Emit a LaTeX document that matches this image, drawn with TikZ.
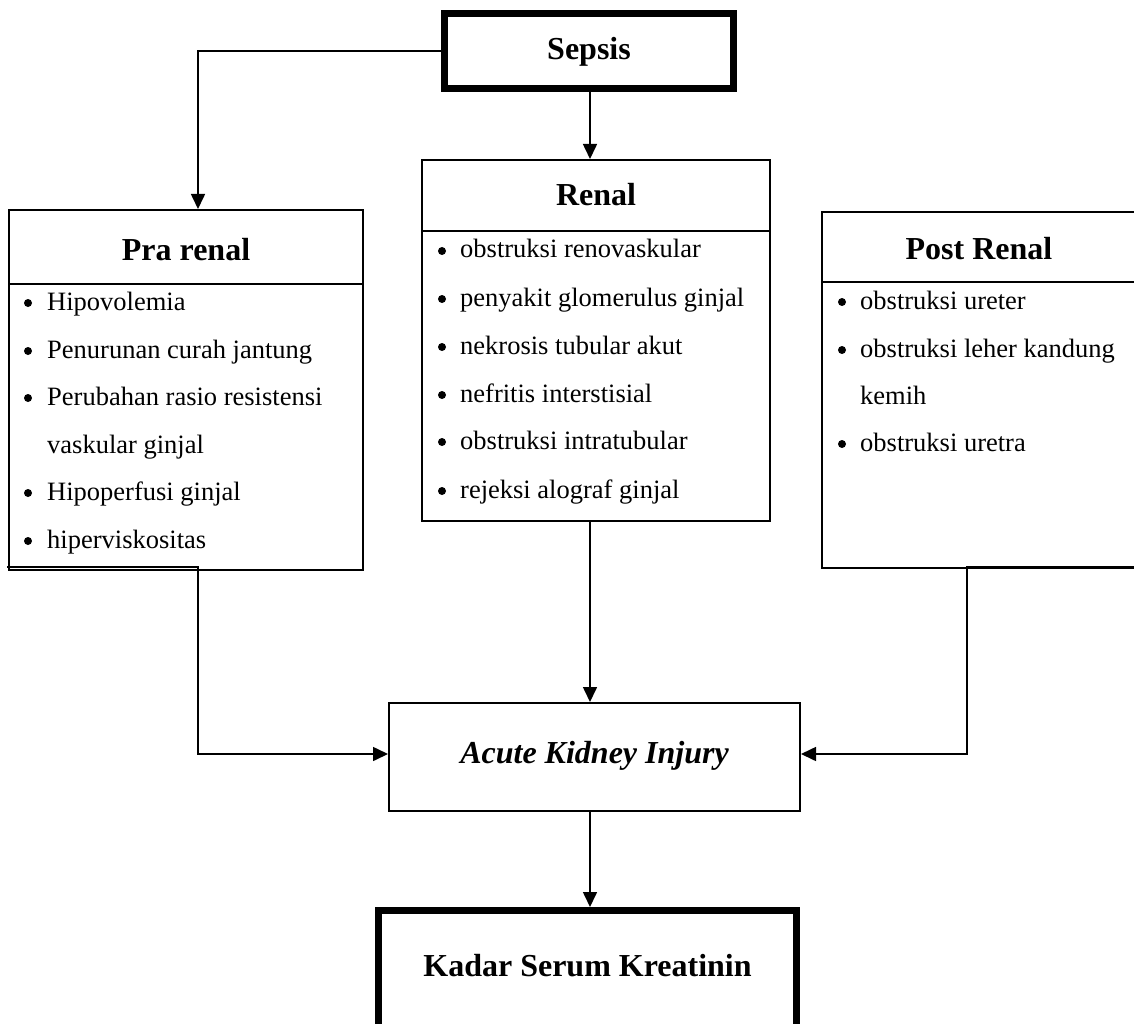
\documentclass[tikz,border=0pt]{standalone}
\usepackage{fontspec}
\setmainfont{Liberation Serif}
\usetikzlibrary{arrows.meta}
\begin{document}
\begin{tikzpicture}[x=1pt,y=-1pt,
  thinbox/.style={draw, line width=2pt, inner sep=0pt},
  thickbox/.style={draw, line width=7pt, inner sep=0pt},
  head/.style={font=\fontsize{32}{36}\selectfont\bfseries, inner sep=0pt, anchor=base},
  itemtext/.style={font=\fontsize{26.5}{30}\selectfont, inner sep=0pt, anchor=base west},
  divider/.style={line width=2pt},
  conn/.style={line width=1.6pt},
  arr/.style={conn, -{Triangle[length=15pt,width=14pt]}},
  dot/.style={fill=black}
]
\useasboundingbox (0,0) rectangle (1134,1024);
\clip (0,0) rectangle (1134,1024);
\fill[white] (0,0) rectangle (1134,1024);

% boxes
\node[thickbox, minimum width=289pt, minimum height=75pt] (sepsis) at (589,51) {};
\node[thinbox, minimum width=354pt, minimum height=360pt] (pra) at (186,390) {};
\node[thinbox, minimum width=348pt, minimum height=361pt] (renal) at (596,340.5) {};
\node[thinbox, minimum width=314pt, minimum height=356pt] (post) at (979,390) {};
\node[thinbox, minimum width=411pt, minimum height=108pt] (aki) at (594.5,757) {};
\node[thickbox, minimum width=418pt, minimum height=130pt] (kadar) at (587.5,975.5) {};

% header dividers
\draw[divider] (pra.west |- 0,284) -- (pra.east |- 0,284);
\draw[divider] (renal.west |- 0,231) -- (renal.east |- 0,231);
\draw[divider] (post.west |- 0,282) -- (post.east |- 0,282);

% titles
\node[head] (sepsisT) at (589,60) {Sepsis};
\node[head] (praT) at (186,260) {Pra renal};
\node[head] (renalT) at (596,206) {Renal};
\node[head] (postT) at (979,259) {Post Renal};
\node[head, font=\fontsize{32}{36}\selectfont\bfseries\itshape] (akiT) at (594.5,763) {Acute Kidney Injury};
\node[head] (kadarT) at (587.5,976) {Kadar Serum Kreatinin};

% Pra renal items
\foreach \y/\t/\b [count=\i] in {310/Hipovolemia/1, 358/Penurunan curah jantung/1, 405/Perubahan rasio resistensi/1, 453/vaskular ginjal/0, 500/Hipoperfusi ginjal/1, 548/hiperviskositas/1}{
  \node[itemtext] (pra\i) at (47,\y) {\t};
  \ifnum\b=1 \fill[dot] (28,\y-7) circle (4pt); \fi
}
% Renal items
\foreach \y/\t [count=\i] in {258/obstruksi renovaskular, 306/penyakit glomerulus ginjal, 354/nekrosis tubular akut, 402/nefritis interstisial, 449/obstruksi intratubular, 498/rejeksi alograf ginjal}{
  \node[itemtext] (renal\i) at (460,\y) {\t};
  \fill[dot] (442,\y-7) circle (4pt);
}
% Post renal items
\foreach \y/\t/\b [count=\i] in {309/obstruksi ureter/1, 357/obstruksi leher kandung/1, 404/kemih/0, 451/obstruksi uretra/1}{
  \node[itemtext] (post\i) at (860,\y) {\t};
  \ifnum\b=1 \fill[dot] (842,\y-7) circle (4pt); \fi
}

% connectors
\coordinate (cx) at (590,0);
\draw[arr] (sepsis.west) -| ([xshift=12pt]pra.north);
\draw[arr] (sepsis.south -| cx) -- (renal.north -| cx);
\draw[arr] (renal.south -| cx) -- (aki.north -| cx);
\draw[arr] (aki.south -| cx) -- (kadar.north -| cx);

\coordinate (praout) at (7,567);
\coordinate (prabend) at (198,567);
\draw[arr] (praout) -- (prabend) |- ([yshift=3pt]aki.west);

\coordinate (postout) at (1134,567);
\coordinate (postbend) at (967,567);
\draw[arr] (postout) -- (postbend) |- ([yshift=3pt]aki.east);
\end{tikzpicture}
\end{document}
